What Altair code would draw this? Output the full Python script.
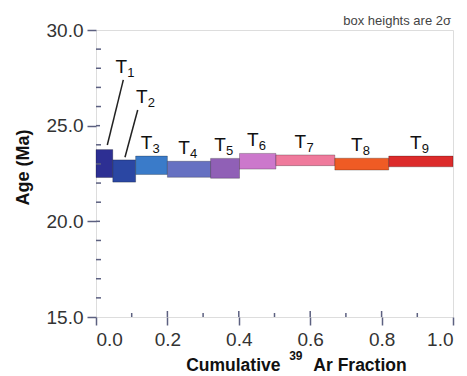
import altair as alt
import pandas as pd

# ---- data ----
labels = ["1", "2", "3", "4", "5", "6", "7", "8", "9"]
frac_start = [0.000, 0.047, 0.111, 0.200, 0.321, 0.402, 0.504, 0.669, 0.820]
frac_end = [0.047, 0.111, 0.200, 0.321, 0.402, 0.504, 0.669, 0.820, 1.000]
ages = [23.02, 22.63, 22.93, 22.72, 22.77, 23.14, 23.19, 22.99, 23.13]
errs = [0.73, 0.58, 0.48, 0.42, 0.52, 0.41, 0.28, 0.31, 0.28]
colors = ["#2d2f93", "#2b47a3", "#3a7bc9", "#6671c2", "#9060b6",
          "#cc78cc", "#ef7a9c", "#ef5b24", "#dc2b2b"]

y_major = [15, 20, 25, 30]
y_minor = [16, 17, 18, 19, 21, 22, 23, 24, 26, 27, 28, 29]
x_major = [0.0, 0.2, 0.4, 0.6, 0.8, 1.0]
x_minor = [0.1, 0.3, 0.5, 0.7, 0.9]

# annotation anchors for T1 / T2 and their leader lines
t12_anchor_x = [0.085, 0.142]
t12_anchor_y = [27.40, 25.80]
lead_x = [0.0765, 0.1168]
lead_y = [27.39, 25.82]
lead_x2 = [0.0317, 0.0812]
lead_y2 = [23.99, 23.35]

FONT = "Liberation Sans"
AX = "#5c6080"

boxes = pd.DataFrame({
    "label": labels, "x0": frac_start, "x1": frac_end,
    "lo": [a - e for a, e in zip(ages, errs)],
    "hi": [a + e for a, e in zip(ages, errs)],
})

ax_list = t12_anchor_x + [(s + e) / 2 for s, e in zip(frac_start[2:], frac_end[2:])]
ay_list = t12_anchor_y + [a + e for a, e in zip(ages[2:], errs[2:])]
lab = pd.DataFrame({"label": labels, "ax": ax_list, "ay": ay_list})
lead = pd.DataFrame({"x": lead_x, "y": lead_y, "x2": lead_x2, "y2": lead_y2})

xs = alt.Scale(domain=[0, 1], nice=False, zero=False)
ys = alt.Scale(domain=[15, 30], nice=False, zero=False)
xaxis = alt.Axis(values=x_major, format=".1f", title=None, grid=False, domain=False,
                 tickSize=8, tickWidth=1.5, tickColor=AX, labelFontSize=19,
                 labelColor="#333", labelPadding=5, labelFont=FONT)
yaxis = alt.Axis(values=y_major, format=".1f", title=None, grid=False, domain=False,
                 tickSize=9, tickWidth=1.5, tickColor=AX, labelFontSize=19,
                 labelColor="#333", labelPadding=4, labelFont=FONT)

rects = alt.Chart(boxes).mark_rect(stroke="#000", strokeOpacity=0.25, strokeWidth=1).encode(
    x=alt.X("x0:Q", scale=xs, axis=xaxis),
    x2="x1:Q",
    y=alt.Y("lo:Q", scale=ys, axis=yaxis),
    y2="hi:Q",
    fill=alt.Fill("label:N", scale=alt.Scale(domain=labels, range=colors), legend=None),
)

t_text = alt.Chart(lab).mark_text(text="T", dx=-5, dy=-7, align="center",
                                  baseline="alphabetic", fontSize=19, font=FONT,
                                  color="#111").encode(
    x=alt.X("ax:Q", scale=xs, axis=xaxis),
    y=alt.Y("ay:Q", scale=ys, axis=yaxis),
)
sub_text = alt.Chart(lab).mark_text(dx=1, dy=-3, align="left", baseline="alphabetic",
                                    fontSize=13, font=FONT, color="#111").encode(
    x=alt.X("ax:Q", scale=xs, axis=xaxis),
    y=alt.Y("ay:Q", scale=ys, axis=yaxis),
    text="label:N",
)

leaders = alt.Chart(lead).mark_rule(color="#222", strokeWidth=1.5).encode(
    x=alt.X("x:Q", scale=xs, axis=xaxis),
    y=alt.Y("y:Q", scale=ys, axis=yaxis),
    x2="x2:Q", y2="y2:Q",
)

ymin_df = pd.DataFrame({"v": y_minor})
ymaj_df = pd.DataFrame({"v": y_major[1:-1]})
xmin_df = pd.DataFrame({"v": x_minor})
xmaj_df = pd.DataFrame({"v": x_major[1:-1]})

ytick_min = alt.Chart(ymin_df).mark_rule(color=AX, strokeWidth=1.5).encode(
    y=alt.Y("v:Q", scale=ys, axis=yaxis), x=alt.value(0), x2=alt.value(5))
ytick_maj = alt.Chart(ymaj_df).mark_rule(color=AX, strokeWidth=1.5).encode(
    y=alt.Y("v:Q", scale=ys, axis=yaxis), x=alt.value(0), x2=alt.value(4))
xtick_min = alt.Chart(xmin_df).mark_rule(color=AX, strokeWidth=1.5).encode(
    x=alt.X("v:Q", scale=xs, axis=xaxis), y=alt.value(287), y2=alt.value(283))
xtick_maj = alt.Chart(xmaj_df).mark_rule(color=AX, strokeWidth=1.5).encode(
    x=alt.X("v:Q", scale=xs, axis=xaxis), y=alt.value(287), y2=alt.value(281))

note = alt.Chart(pd.DataFrame({"t": ["box heights are 2σ"]})).mark_text(
    align="right", baseline="alphabetic", fontSize=13, font=FONT, color="#444").encode(
    text="t:N", x=alt.value(355), y=alt.value(-5))

ytitle = alt.Chart(pd.DataFrame({"t": ["Age (Ma)"]})).mark_text(
    align="center", baseline="alphabetic", angle=270, fontSize=18, fontWeight="bold",
    font=FONT, color="#111").encode(text="t:N", x=alt.value(-67), y=alt.value(137.5))

xt1 = alt.Chart(pd.DataFrame({"t": ["Cumulative"]})).mark_text(
    align="center", baseline="alphabetic", fontSize=17.5, fontWeight="bold",
    font=FONT, color="#111").encode(text="t:N", x=alt.value(137.3), y=alt.value(341))
xt2 = alt.Chart(pd.DataFrame({"t": ["39"]})).mark_text(
    align="center", baseline="alphabetic", fontSize=12, fontWeight="bold",
    font=FONT, color="#111").encode(text="t:N", x=alt.value(199.8), y=alt.value(330))
xt3 = alt.Chart(pd.DataFrame({"t": ["Ar Fraction"]})).mark_text(
    align="center", baseline="alphabetic", fontSize=17.5, fontWeight="bold",
    font=FONT, color="#111").encode(text="t:N", x=alt.value(264), y=alt.value(341))

chart = alt.layer(
    rects, leaders, ytick_min, ytick_maj, xtick_min, xtick_maj,
    t_text, sub_text, note, ytitle, xt1, xt2, xt3,
).properties(
    width=357, height=287,
    autosize=alt.AutoSizeParams(type="none"),
    padding={"left": 88, "top": 22, "right": 6, "bottom": 58},
).configure_view(
    fill="#dcdcdc", stroke=AX, strokeWidth=1.5,
).configure(font=FONT, background="white")

chart.save("out.html", embed_options={"renderer": "svg", "actions": False})
